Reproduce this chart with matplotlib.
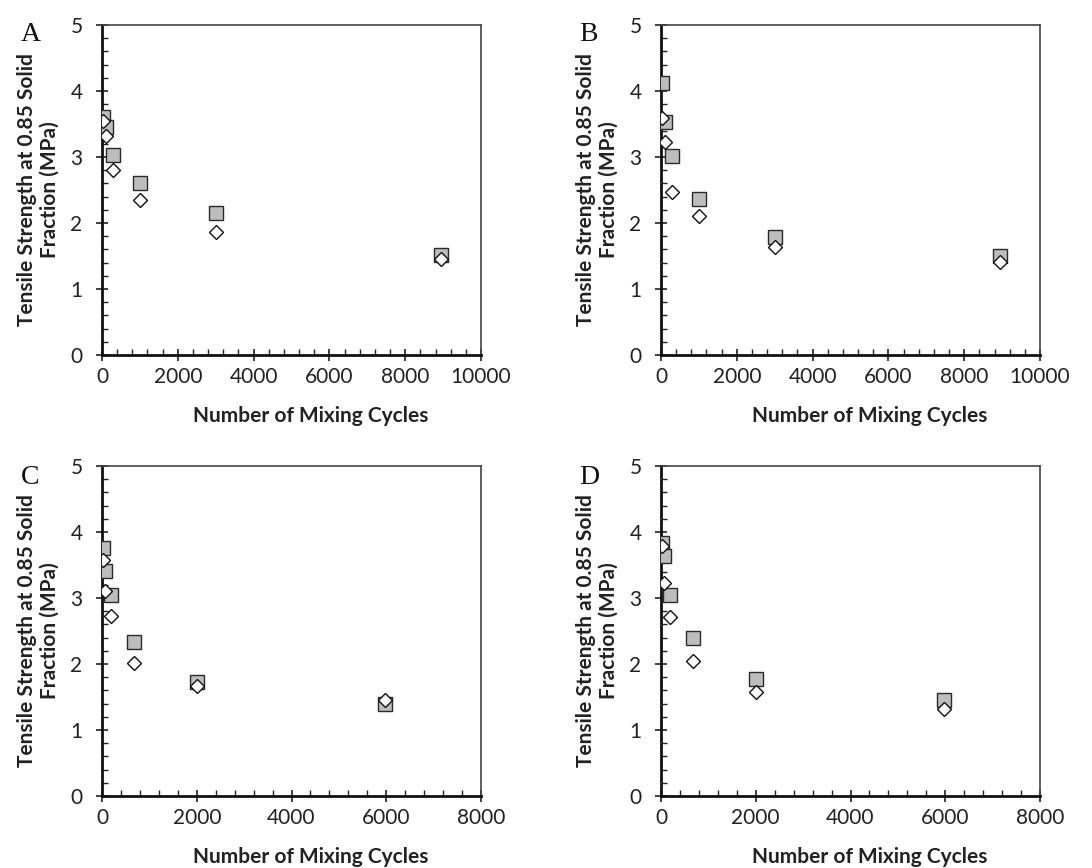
import matplotlib
matplotlib.use("Agg")
import matplotlib.pyplot as plt
from matplotlib.ticker import MultipleLocator

# ---- data ----
panel_labels = ["A", "B", "C", "D"]

x_A = [30, 100, 300, 1000, 3000, 8950]
sq_A = [3.60, 3.45, 3.03, 2.61, 2.15, 1.52]
di_A = [3.55, 3.32, 2.80, 2.35, 1.86, 1.46]

x_B = [30, 100, 300, 1000, 3000, 8950]
sq_B = [4.12, 3.53, 3.01, 2.37, 1.79, 1.50]
di_B = [3.59, 3.22, 2.47, 2.10, 1.64, 1.41]

x_C = [20, 67, 200, 667, 2000, 5970]
sq_C = [3.76, 3.41, 3.05, 2.33, 1.73, 1.39]
di_C = [3.57, 3.10, 2.72, 2.02, 1.66, 1.46]

x_D = [20, 67, 200, 667, 2000, 5970]
sq_D = [3.83, 3.64, 3.05, 2.40, 1.77, 1.45]
di_D = [3.79, 3.22, 2.71, 2.04, 1.57, 1.32]

xmax = [10000, 10000, 8000, 8000]
xticks_A = [0, 2000, 4000, 6000, 8000, 10000]
xticks_C = [0, 2000, 4000, 6000, 8000]
yticks = [0, 1, 2, 3, 4, 5]

xlabel = "Number of Mixing Cycles"
ylabel = "Tensile Strength at 0.85 Solid\nFraction (MPa)"

plt.rcParams['font.family'] = ['Lato', 'DejaVu Sans']

fig = plt.figure(figsize=(10.92, 8.68), dpi=100)

W = 379 / 1092
H = 330 / 868
positions = [
    (102 / 1092, 1 - 355 / 868),
    (661 / 1092, 1 - 355 / 868),
    (102 / 1092, 1 - 796 / 868),
    (661 / 1092, 1 - 796 / 868),
]
letter_y = [0.97, 0.97, 0.965, 0.965]
data = [(x_A, sq_A, di_A), (x_B, sq_B, di_B), (x_C, sq_C, di_C), (x_D, sq_D, di_D)]
xticks_all = [xticks_A, xticks_A, xticks_C, xticks_C]

for i, (pos, (xs, sq, di)) in enumerate(zip(positions, data)):
    ax = fig.add_axes([pos[0], pos[1], W, H])
    ax.plot(xs, sq, linestyle='none', marker='s', markersize=10,
            markerfacecolor='#bdbdbd', markeredgecolor='#2a2a2a', markeredgewidth=1.0, zorder=3)
    ax.plot(xs, di, linestyle='none', marker='D', markersize=7.5,
            markerfacecolor='white', markeredgecolor='#111111', markeredgewidth=1.0, zorder=4)
    ax.set_xlim(0, xmax[i])
    ax.set_ylim(0, 5)
    ax.set_xticks(xticks_all[i])
    ax.set_yticks(yticks)
    ax.xaxis.set_minor_locator(MultipleLocator(400))
    ax.yaxis.set_minor_locator(MultipleLocator(0.2))
    ax.tick_params(axis='both', which='major', direction='inout', length=8, width=1.2,
                   labelsize=15, colors='#222222')
    ax.tick_params(axis='both', which='minor', direction='in', length=4, width=1.0,
                   colors='#222222')
    ax.tick_params(axis='x', which='major', pad=5)
    ax.tick_params(axis='y', which='major', pad=10)
    for s in ['left', 'bottom']:
        ax.spines[s].set_linewidth(2.0)
        ax.spines[s].set_color('#111111')
    for s in ['top', 'right']:
        ax.spines[s].set_linewidth(1.2)
        ax.spines[s].set_color('#444444')
    ax.set_xlabel(xlabel, fontsize=15, fontweight='bold', color='#222222', labelpad=14)
    ax.xaxis.set_label_coords(0.55, -0.155)
    ax.xaxis.label.set_va('top')
    ax.set_ylabel(ylabel, fontsize=15, fontweight='bold', color='#222222', labelpad=8,
                  linespacing=1.15)
    ax.text(-0.215, letter_y[i], panel_labels[i], transform=ax.transAxes, fontsize=20,
            family='Liberation Serif', va='center', ha='left', color='#111111')

fig.savefig('out.png', dpi=100)
